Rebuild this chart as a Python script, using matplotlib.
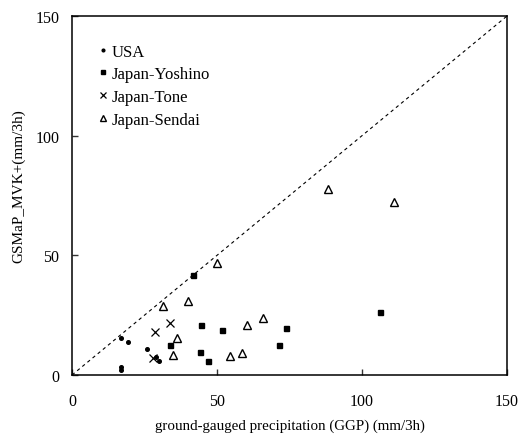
import matplotlib
matplotlib.use("Agg")
import matplotlib.pyplot as plt

plt.rcParams['font.family'] = ['Liberation Serif', 'DejaVu Serif']

usa_x = [17.0, 19.3, 25.8, 29.0, 30.0, 17.0, 17.0]
usa_y = [15.3, 13.7, 11.0, 7.5, 6.0, 3.5, 2.1]

yoshino_x = [41.8, 44.5, 33.8, 44.1, 47.0, 51.6, 73.8, 71.4, 106.2]
yoshino_y = [41.8, 21.0, 12.7, 9.7, 6.0, 18.8, 19.6, 12.7, 26.5]

tone_x = [33.8, 28.7, 28.0]
tone_y = [21.6, 17.8, 7.1]

sendai_x = [88.4, 111.0, 50.1, 40.1, 31.5, 36.3, 34.9, 60.5, 66.0, 54.5, 58.7]
sendai_y = [77.7, 72.2, 46.8, 31.0, 28.9, 15.5, 8.5, 20.9, 24.0, 7.9, 9.0]

line_x = [0, 150]
line_y = [0, 150]

fig = plt.figure(figsize=(5.24, 4.39), dpi=100)
ax = fig.add_axes([0.1374, 0.1435, 0.8302, 0.8178])

ax.plot(line_x, line_y, color='black', linestyle=(0, (3, 3)), linewidth=0.8, zorder=1)

ax.plot(usa_x, usa_y, linestyle='none', marker='o', markersize=2.6,
        color='black', label='USA')
ax.plot(yoshino_x, yoshino_y, linestyle='none', marker='s', markersize=3.6,
        color='black', label='Japan-Yoshino')
ax.plot(tone_x, tone_y, linestyle='none', marker='x', markersize=6,
        markeredgewidth=0.9, color='black', label='Japan-Tone')
ax.plot(sendai_x, sendai_y, linestyle='none', marker='^', markersize=5.5,
        markerfacecolor='white', markeredgecolor='black', markeredgewidth=1.0,
        label='Japan-Sendai')

ax.set_xlim(0, 150)
ax.set_ylim(0, 150)
ax.set_xticks([0, 50, 100, 150])
ax.set_yticks([0, 50, 100, 150])
ax.tick_params(direction='in', length=4, width=1, labelsize=11.5, color='#333333')
ax.tick_params(axis='x', pad=13)
ax.tick_params(axis='y', pad=9)
for s in ax.spines.values():
    s.set_linewidth(1.1)
    s.set_color('black')

ax.set_xlabel('ground-gauged precipitation (GGP) (mm/3h)', fontsize=10.8, labelpad=7)
ax.set_ylabel('GSMaP_MVK+(mm/3h)', fontsize=11)
ax.yaxis.set_label_coords(-0.107, 0.53)

leg = ax.legend(loc='upper left', bbox_to_anchor=(0.03, 0.965), frameon=False,
                fontsize=12, handlelength=0.3, handletextpad=0.4,
                labelspacing=0.4, markerscale=0.75)

fig.savefig('out.png', dpi=100)
